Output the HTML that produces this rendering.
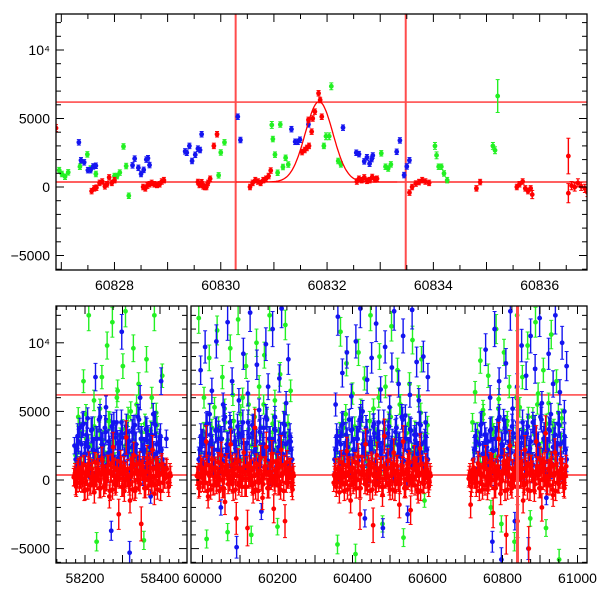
<!DOCTYPE html>
<html><head><meta charset="utf-8"><style>
html,body{margin:0;padding:0;background:#fff;width:600px;height:600px;overflow:hidden;}
svg{display:block;font-family:"Liberation Sans",Arial,sans-serif;}
</style></head><body>
<svg id="chart" width="600" height="600" viewBox="0 0 600 600" xmlns="http://www.w3.org/2000/svg">
<defs>
<clipPath id="cTop"><rect x="56" y="14" width="531" height="256"/></clipPath>
<clipPath id="cB1"><rect x="56" y="306" width="131" height="257"/></clipPath>
<clipPath id="cB2"><rect x="191" y="306" width="396" height="257"/></clipPath>
</defs>
<g id="gTop"></g>
<g id="gBot"></g>
</svg>
<script>
// ---------- top panel data ----------
const topRedDays=[60826.9,60827.57,60827.62,60827.66,60827.72,60827.77,60827.82,60827.86,60827.9,60827.95,60828.0,60828.54,60828.58,60828.62,60828.66,60828.7,60828.75,60828.8,60828.85,60828.89,60828.93,60829.57,60829.6,60829.64,60829.67,60829.7,60829.73,60829.76,60829.8,60829.87,60829.93,60830.55,60830.6,60830.65,60830.7,60830.75,60830.8,60830.85,60830.9,60830.94,60831.53,60831.58,60831.62,60831.66,60831.65,60831.71,60831.73,60831.77,60831.84,60831.87,60831.9,60832.56,60832.6,60832.65,60832.7,60832.75,60832.8,60832.85,60832.9,60832.94,60833.55,60833.6,60833.67,60833.73,60833.79,60833.85,60833.92,60834.81,60834.88,60835.57,60835.62,60835.68,60835.73,60835.78,60835.83,60835.86,60836.54,60836.54,60836.6,60836.66,60836.72,60836.78,60836.85,60836.9];
const topRedVals=[4300,-300,-100,-50,300,400,50,200,700,300,500,0,-100,100,200,300,200,150,200,400,500,365,150,350,50,0,0,300,600,3000,3850,0,300,500,400,300,500,600,800,1200,2550,2700,2850,3000,4900,4040,5000,5500,6840,6350,5130,400,600,500,700,450,500,730,550,600,-410,0,250,360,500,400,300,-100,360,0,200,400,-100,-300,-100,-550,2260,-450,100,0,300,50,-100,-400];
const topRedErr=[250,200,200,200,200,200,200,200,200,200,200,200,200,200,200,200,200,200,200,200,200,200,200,200,200,200,200,200,200,200,200,200,200,200,200,200,200,200,200,200,200,200,200,200,200,200,200,200,200,200,200,200,200,200,200,200,200,200,200,200,200,200,200,200,200,200,200,200,200,200,200,200,200,200,200,300,1300,700,300,300,300,300,300,300];
const topBlueDays=[60827.33,60827.37,60827.43,60827.5,60827.55,60827.6,60827.65,60828.34,60828.38,60828.45,60828.5,60828.55,60828.6,60828.63,60828.66,60829.33,60829.36,60829.41,60829.46,60829.52,60829.57,60829.61,60829.64,60830.32,60830.37,60831.33,60831.4,60831.45,60831.49,60831.65,60832.3,60832.55,60832.6,60832.7,60832.75,60832.8,60832.84,60832.86,60833.31,60833.37,60833.45,60833.5,60833.55];
const topBlueVals=[3260,1950,1800,1230,1230,1500,1550,1580,2070,1400,950,1250,2000,2100,1600,2600,2500,3000,1900,2350,2800,2700,3850,5130,3430,4220,3300,3300,3450,4570,4330,2500,2400,1870,2170,1700,2040,2300,2570,3400,870,1500,1950];
const topGreenDays=[60826.96,60827.01,60827.07,60827.13,60827.35,60827.49,60827.55,60827.65,60828.0,60828.05,60828.1,60828.17,60828.22,60828.27,60829.96,60830.0,60830.07,60830.96,60830.98,60831.02,60831.07,60831.12,60831.17,60831.22,60831.27,60831.94,60831.98,60832.04,60832.08,60832.21,60832.26,60833.02,60833.1,60833.15,60833.2,60834.03,60834.06,60834.1,60834.15,60834.2,60834.26,60835.12,60835.16,60835.21];
const topGreenVals=[1230,950,750,1070,1480,2380,1350,950,800,800,1050,2960,1530,-640,850,2520,3260,4530,3500,2360,1040,4560,1460,2130,1640,3000,3700,3700,7350,1900,1650,2460,1480,1350,1650,3000,2310,1480,1480,990,500,3000,2680,6640];
const topGreenErr=[200,200,200,200,200,200,200,200,200,200,200,200,200,200,200,200,200,250,200,200,200,200,200,200,200,200,250,250,250,200,200,200,200,200,200,250,250,200,200,200,200,250,250,1200];
const fitPeakDay=60831.85, fitPeak=5870, fitBase=365, fitSigma=0.26;
const vLines=[60830.28,60833.48];
const hLines=[6200,365];
const topXTicks=[60828,60830,60832,60834,60836];
const yTickVals=[-5000,0,5000,10000];
const yTickLabels=["\u22125000","0","5000","10\u2074"];

// ---------- bottom panel data ----------
const botRedS1=[200,-400,600,-200,900,100,-700,400,1200,-300,500,-900,300,800,-100,1500,-500,200,1000,-1200,600,2400,-300,700,-2500,1300,400,-800,3100,200,-1500,900,1800,-600,400,1200,-3200,700,100,1600,-400,900,2200,-1000,300,800,-200,1100,500];
const botRedS2=[300,-600,1000,-200,700,2800,-1200,400,1500,-400,900,200,-800,1800,500,-1600,1100,300,2600,-300,800,-2800,1400,600,-500,2000,100,-3500,1200,700,-900,3800,400,-200,1600,-1300,900,2400,-600,300,1900,-2100,700,1100,-400,2200,500,-3000,1300,200,800,-700];
const botRedS3=[-200,800,400,-900,1300,200,-300,2100,600,-1500,900,300,-600,1700,-2500,1000,400,2600,-400,700,1200,-3300,500,1800,-200,900,-1100,3200,300,1400,-700,600,2000,-300,1000,-1800,500,2800,-500,800,1300,-2200,200,1600,700,-900,2300,400,-300,1100,600,-100];
const botRedS4=[100,-1800,700,300,-500,1200,400,-300,900,1600,-700,500,1100,-2400,800,200,3000,-1000,600,1400,-4000,900,2500,-600,300,1800,-3000,700,1300,-1500,2200,400,-5000,1000,600,-800,2800,300,1500,-2000,900,3400,-400,700,1200,-1100,2000,500,-300,1500,800,-600,1000];
const botRedCore=[300,-500,800,100,-200,1100,500,-700,900,200,-300,1300,0,600,-600,1000,400,-100,700,-800,1200,300,-400,800,100,1000,-500,600,200,-200,900,-700,500,1100,0,-300,700,400,-600,1200,200,-100,800,-400,1000,300,-800,600,100,900,-200,500];
const botRedStart=[58170,59985,60350,60710];
const botRedStep=[5,5,5,5];
const botBlueS1=[2500,1000,3800,600,1800,4500,200,2200,7500,1500,3000,900,5300,2000,-3700,4200,1200,2800,10800,1800,3500,-5300,2400,4000,1300,6000,2100,900,3300,-1200,4800,1600,2600,7200,1100,3000];
const botBlueS2=[8000,3000,9700,1500,4800,6500,2200,10100,3600,-2000,5500,1800,11500,4200,7200,2600,-4900,5800,3300,9200,1400,6300,12200,4000,2100,8400,5100,-2300,3800,9900,6800,2500,11000,4600,1900,7400,12500,3400,5600,8800,2800];
const botBlueS3=[5500,11900,3200,7800,2100,9300,4400,6100,1800,10100,3600,12500,5000,-2800,7300,2600,8900,4100,11400,3000,6600,-3500,9700,1900,5300,8200,12300,3800,7000,2500,10500,4700,-2500,6200,12400,3300,8600,5800,1600,9000,4200,7500];
const botBlueS4=[9500,2800,6000,-4500,11000,3700,7200,-5800,4400,8500,2300,12300,5200,-3000,6800,3100,9800,1900,7600,-5000,10500,4200,8100,2700,11800,5600,3500,-1300,9200,4800,7000,12000,2600,6400,10000,5000,8300];
const botBlueCore=[1500,3200,800,2600,4100,1900,2900,1200,3600,2200,500,3000,4400,1700,2500,3800,1100,2800,2000,3400,900,4200,1600,2700,3100,1300,3900,2300,700,3500,1800,2600,4600,1400,3000,2100,3700,1000,2400,3300,1900,4000,1200,2800,2200];
const botBlueStart=[58172,59995,60355,60755];
const botBlueStep=[7,6,6,6];
const botBlueCoreStart=[58175,59990,60352,60722];
const botBlueCoreStep=[5.2,5.6,5.6,5.6];
const botGreenS1=[1800,4600,1200,7200,3000,12000,2500,5800,-4500,3600,7500,2000,9800,4300,11500,1500,6500,3200,8300,12300,2800,5000,9600,1500,7000,3500,-4400,8800,2400,6000,12000,4000,1000,7600];
const botGreenS2=[11800,2500,6000,-4300,8900,3800,5300,10900,1800,7500,4200,-3800,9600,6200,2800,11700,4800,1500,8300,5500,-4000,3200,10000,6800,2000,9100,4500,12000,3000,5800,-3400,7700,2400,11300,4100,6500];
const botGreenS3=[-4700,10800,3800,8500,2200,6300,-5400,9300,4600,7400,1500,12000,5200,3000,9000,-3200,6800,4300,11200,2600,8000,5500,-4200,3400,7000,10200,2200,6100,8800,-1500,4000];
const botGreenS4=[4200,6400,3000,8700,5100,2000,7600,-2000,3500,11000,5900,-3200,9300,4000,6800,2600,-4500,12000,5300,7500,3100,9800,-2800,4600,11500,6300,2200,8000,-3500,5600,10600,3800,7200,-5800,4500];
const botGreenCore=[2000,3500,1200,4800,2600,900,3900,1700,5200,2900,1400,4300,2200,3100,6000,1000,3700,2500,4600,1800,3300,5500,1300,2800,4100,2000,3600,1500,4900,2700];
const botGreenStart=[58175,59990,60360,60720];
const botGreenStep=[7,7,8,7];
const botGreenCoreStart=[58180,59995,60358,60725];
const botGreenCoreStep=[7.5,8,8,8];
const botSpikeDay=[60840], botSpikeVal=[0], botSpikeErr=[20000];
const botXTicks1=[58200,58400];
const botXTicks2=[60000,60200,60400,60600,60800,61000];

const NS="http://www.w3.org/2000/svg";
function mk(tag,attrs,parent){const e=document.createElementNS(NS,tag);for(const k in attrs)e.setAttribute(k,attrs[k]);parent.appendChild(e);return e;}

const RED="#ff0000",BLUE="#1414f0",GREEN="#22f022",VRED="#ff4c4c";
const xTop=d=>56+(d-60826.9)*53.15;
const yTop=v=>187-v*0.0137;
const xBot=d=>d<59000?85+(d-58200)*0.375:202.5+(d-60000)*0.375;
const yBot=v=>480-v*0.01372;

function point(g,x,y,e,color,name){
  const grp=mk('g',{},g);
  
  
  mk('line',{x1:x,x2:x,y1:y-e,y2:y+e,stroke:color,'stroke-width':1.4},grp);
  mk('line',{x1:x-2,x2:x+2,y1:y-e,y2:y-e,stroke:color,'stroke-width':1},grp);
  mk('line',{x1:x-2,x2:x+2,y1:y+e,y2:y+e,stroke:color,'stroke-width':1},grp);
  mk('circle',{cx:x,cy:y,r:2.4,fill:color},grp);
}

// ---------- TOP ----------
const gTop=document.getElementById('gTop');
const tc=mk('g',{'clip-path':'url(#cTop)'},gTop);
hLines.forEach(h=>{const l=mk('line',{x1:56,x2:587,y1:yTop(h),y2:yTop(h),stroke:RED,'stroke-width':1.2},tc);
  });
vLines.forEach(v=>{const l=mk('line',{x1:xTop(v),x2:xTop(v),y1:14,y2:270,stroke:VRED,'stroke-width':2},tc);
  });
topGreenDays.forEach((d,i)=>point(tc,xTop(d),yTop(topGreenVals[i]),topGreenErr[i]*0.0137,GREEN,'green-point'));
topBlueDays.forEach((d,i)=>point(tc,xTop(d),yTop(topBlueVals[i]),200*0.0137,BLUE,'blue-point'));
topRedDays.forEach((d,i)=>point(tc,xTop(d),yTop(topRedVals[i]),topRedErr[i]*0.0137,RED,'red-point'));
let pts=[];
for(let d=vLines[0];d<=vLines[1]-0.15;d+=0.02){const v=fitBase+fitPeak*Math.exp(-Math.pow(d-fitPeakDay,2)/(2*fitSigma*fitSigma));pts.push(xTop(d).toFixed(1)+','+yTop(v).toFixed(1));}
const fit=mk('polyline',{points:pts.join(' '),fill:'none',stroke:RED,'stroke-width':1.3},tc);


function frame(g,x0,x1,y0,y1,name){const r=mk('rect',{x:x0,y:y0,width:x1-x0,height:y1-y0,fill:'none',stroke:'#000','stroke-width':1.3},g);
  }
frame(gTop,56,587,14,270,'top-plot-frame');
for(let d=60827;d<=60836.9;d+=0.5){const x=xTop(d);const L=(d%1===0)?8:5;
  mk('line',{x1:x,x2:x,y1:270,y2:270-L,stroke:'#000'},gTop);mk('line',{x1:x,x2:x,y1:14,y2:14+L,stroke:'#000'},gTop);}
for(let v=-6000;v<=12000;v+=1000){const y=yTop(v);const L=(v%5000===0)?8:5;
  mk('line',{x1:56,x2:56+L,y1:y,y2:y,stroke:'#000'},gTop);mk('line',{x1:587,x2:587-L,y1:y,y2:y,stroke:'#000'},gTop);}
topXTicks.forEach(d=>{const t=mk('text',{x:xTop(d),y:290,'text-anchor':'middle','font-size':14},gTop);t.textContent=String(d);
  });
yTickVals.forEach((v,i)=>{const t=mk('text',{x:50,y:yTop(v)+5,'text-anchor':'end','font-size':14},gTop);t.textContent=yTickLabels[i];
  });

// ---------- BOTTOM ----------
const gBot=document.getElementById('gBot');
const b1=mk('g',{'clip-path':'url(#cB1)'},gBot);
const b2=mk('g',{'clip-path':'url(#cB2)'},gBot);
[[b1,56,187],[b2,191,587]].forEach(([g,a,b])=>hLines.forEach(h=>{const l=mk('line',{x1:a,x2:b,y1:yBot(h),y2:yBot(h),stroke:RED,'stroke-width':1.2},g);
  }));
function season(arr,start,step,color,name,errs){arr.forEach((v,i)=>{const d=start+i*step;point(d<59000?b1:b2,xBot(d),yBot(v),errs(v)*0.01372,color,name);});}
const gr=[botGreenS1,botGreenS2,botGreenS3,botGreenS4], bl=[botBlueS1,botBlueS2,botBlueS3,botBlueS4], rd=[botRedS1,botRedS2,botRedS3,botRedS4];
gr.forEach((a,s)=>season(a,botGreenStart[s],botGreenStep[s],GREEN,'green-point',v=>400+Math.abs(v)*0.06));
botGreenStart.forEach((st,s)=>season(botGreenCore,botGreenCoreStart[s],botGreenCoreStep[s],GREEN,'green-point',v=>700));
bl.forEach((a,s)=>season(a,botBlueStart[s],botBlueStep[s],BLUE,'blue-point',v=>400+Math.abs(v)*0.08));
botBlueStart.forEach((st,s)=>season(botBlueCore,botBlueCoreStart[s],botBlueCoreStep[s],BLUE,'blue-point',v=>900));
botBlueStart.forEach((st,s)=>season(botBlueCore.slice().reverse(),botBlueCoreStart[s]+2.6,botBlueCoreStep[s],BLUE,'blue-point',v=>900));
rd.forEach((a,s)=>season(a,botRedStart[s],botRedStep[s],RED,'red-point',v=>600+Math.abs(v)*0.2));
botRedStart.forEach((st,s)=>season(botRedCore,st+1.7,botRedStep[s],RED,'red-point',v=>700));
botRedStart.forEach((st,s)=>season(botRedCore.slice().reverse(),st+3.3,botRedStep[s],RED,'red-point',v=>700));
botSpikeDay.forEach((d,i)=>{const l=mk('line',{x1:xBot(d),x2:xBot(d),y1:yBot(botSpikeVal[i]+botSpikeErr[i]),y2:yBot(botSpikeVal[i]-botSpikeErr[i]),stroke:VRED,'stroke-width':3},b2);
  });
frame(gBot,56,187,306,563,'bottom-left-frame');
frame(gBot,191,587,306,563,'bottom-right-frame');
[[58125,58470,56,187],[59980,61010,191,587]].forEach(([d0,d1,a,b])=>{
  for(let d=Math.ceil(d0/25)*25;d<=d1;d+=25){const x=xBot(d);if(x<a||x>b)continue;const L=(d%100===0)?8:4;
    mk('line',{x1:x,x2:x,y1:563,y2:563-L,stroke:'#000'},gBot);mk('line',{x1:x,x2:x,y1:306,y2:306+L,stroke:'#000'},gBot);}
  for(let v=-6000;v<=12000;v+=1000){const y=yBot(v);const L=(v%5000===0)?8:5;
    mk('line',{x1:a,x2:a+L,y1:y,y2:y,stroke:'#000'},gBot);mk('line',{x1:b,x2:b-L,y1:y,y2:y,stroke:'#000'},gBot);}
});
botXTicks1.concat(botXTicks2).forEach(d=>{const t=mk('text',{x:xBot(d),y:583,'text-anchor':'middle','font-size':14},gBot);t.textContent=String(d);
  });
yTickVals.forEach((v,i)=>{const t=mk('text',{x:50,y:yBot(v)+5,'text-anchor':'end','font-size':14},gBot);t.textContent=yTickLabels[i];
  });
</script>
</body></html>
